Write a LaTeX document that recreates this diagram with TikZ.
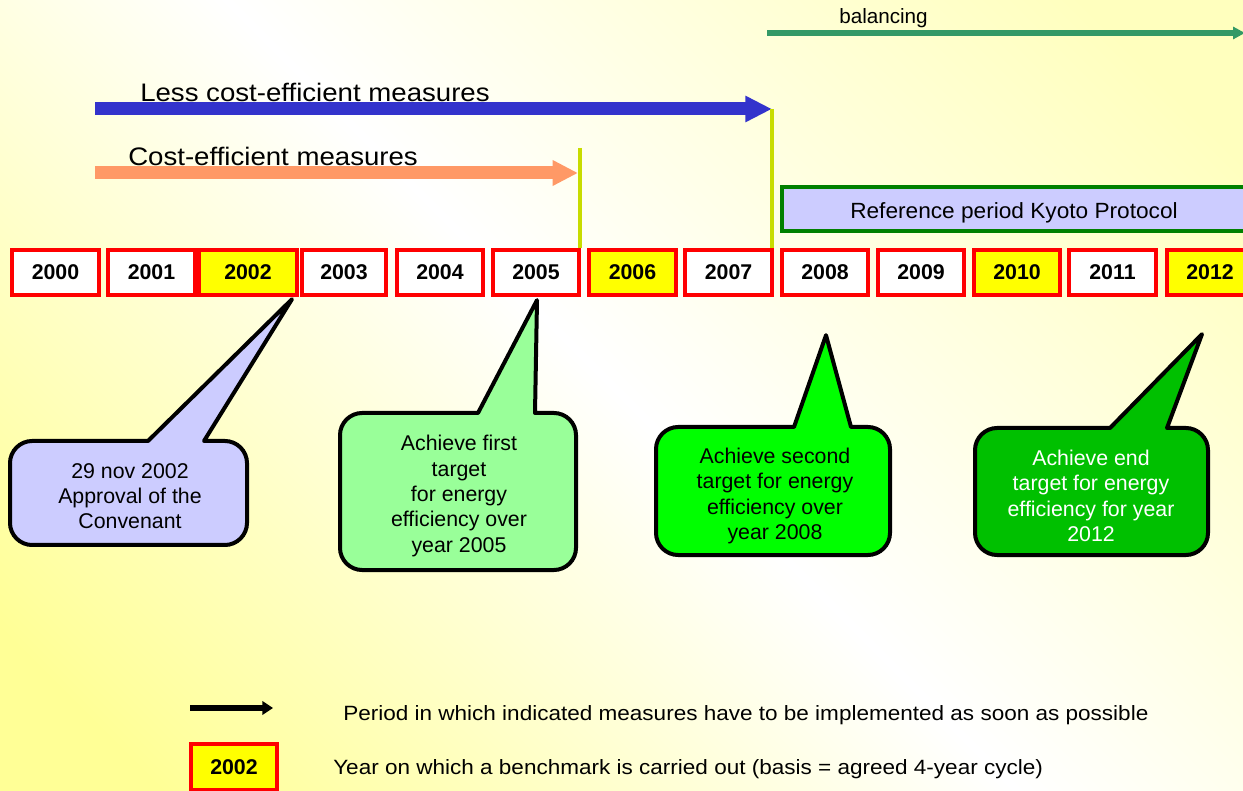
\documentclass[tikz,border=0pt]{standalone}
\usepackage{fontspec}
\setmainfont{Liberation Sans}
\newfontfamily\widefont[FakeStretch=1.09]{Liberation Sans}
\usetikzlibrary{arrows.meta,calc}
\definecolor{bgyellow}{RGB}{255,255,150}
\definecolor{bgyellowb}{RGB}{255,255,190}
\definecolor{boxred}{RGB}{255,0,0}
\definecolor{benchyellow}{RGB}{255,255,0}
\definecolor{lavender}{RGB}{204,204,255}
\definecolor{palegreen}{RGB}{153,255,153}
\definecolor{brightgreen}{RGB}{0,255,0}
\definecolor{deepgreen}{RGB}{0,192,0}
\definecolor{refgreen}{RGB}{0,128,0}
\definecolor{bluebar}{RGB}{51,51,204}
\definecolor{salmonbar}{RGB}{255,153,102}
\definecolor{balgreen}{RGB}{51,153,102}
\definecolor{limeline}{RGB}{200,220,0}
% #1 style, #2 left x, #3 top y, #4 right x, #5 bottom y, #6 pointer base left x, #7 pointer base right x, #8 tip
\newcommand{\mybubble}[8]{%
  \filldraw[bubble,#1] #8 -- (#7,#3) -- ({#4-22},#3)
    .. controls ({#4-10},#3) and (#4,{#3+10}) .. (#4,{#3+22})
    -- (#4,{#5-22}) .. controls (#4,{#5-10}) and ({#4-10},#5) .. ({#4-22},#5)
    -- ({#2+22},#5) .. controls ({#2+10},#5) and (#2,{#5-10}) .. (#2,{#5-22})
    -- (#2,{#3+22}) .. controls (#2,{#3+10}) and ({#2+10},#3) .. ({#2+22},#3)
    -- (#6,#3) -- cycle;}
\begin{document}
\begin{tikzpicture}[x=0.75pt,y=-0.75pt,
  yearbox/.style={draw=boxred, line width=3pt, fill=white, minimum width=65pt,
    minimum height=34pt, inner sep=0pt, font=\fontsize{16}{18}\selectfont\bfseries},
  bench/.style={yearbox, fill=benchyellow},
  bubble/.style={line width=3pt, draw=black, line join=round},
  bubbletext/.style={align=center, font=\fontsize{16}{19}\selectfont, inner sep=0pt},
  lbl/.style={inner sep=0pt, font=\widefont\fontsize{19}{22}\selectfont},
  smalllbl/.style={inner sep=0pt, font=\fontsize{15.5}{18}\selectfont},
  leglbl/.style={inner sep=0pt, font=\widefont\fontsize{15.5}{18}\selectfont},
  vline/.style={draw=limeline, line width=3pt}
]
\useasboundingbox (0,0) rectangle (1243,791);
\clip (0,0) rectangle (1243,791);
\shade[top color=bgyellowb, bottom color=bgyellow, middle color=white, shading angle=-45]
  (-100,-100) rectangle (1343,891);

% year boxes
\node[yearbox] (y2000) at (55.5,272.5) {2000};
\node[yearbox] (y2001) at (151.5,272.5) {2001};
\node[bench, minimum width=73.5pt] (y2002) at (248,272.5) {2002};
\node[yearbox, minimum width=63pt] (y2003) at (344,272.5) {2003};
\node[yearbox] (y2004) at (440,272.5) {2004};
\node[yearbox] (y2005) at (536,272.5) {2005};
\node[bench] (y2006) at (632.5,272.5) {2006};
\node[yearbox] (y2007) at (728.5,272.5) {2007};
\node[yearbox] (y2008) at (825,272.5) {2008};
\node[yearbox] (y2009) at (921,272.5) {2009};
\node[bench] (y2010) at (1017,272.5) {2010};
\node[yearbox] (y2011) at (1112.5,272.5) {2011};
\node[bench] (y2012) at (1210,272.5) {2012};

% arrows
\coordinate (balS) at (767,33);
\coordinate (balE) at (1245,33);
\draw[balgreen, line width=4.2pt, -{Triangle[length=9pt,width=9pt]}] (balS) -- (balE);
\node[smalllbl, anchor=west] (ballbl) at (839,18) {balancing};

\coordinate (blueS) at (95,109);
\coordinate (blueE) at (772,109);
\draw[bluebar, line width=9.75pt, -{Triangle[length=20pt,width=18.5pt]}] (blueS) -- (blueE);
\node[lbl, anchor=west] (lesslbl) at (140,92) {Less cost-efficient measures};

\coordinate (salS) at (95,173);
\coordinate (salE) at (578,173);
\draw[salmonbar, line width=9.75pt, -{Triangle[length=19pt,width=18pt]}] (salS) -- (salE);
\node[lbl, anchor=west] (costlbl) at (128,156) {Cost-efficient measures};

% vertical markers
\coordinate (v1top) at (580,148);
\draw[vline] (v1top) -- (v1top |- y2005.north);
\draw[vline] (blueE) -- (blueE |- y2007.north);

% reference period box
\draw[draw=refgreen, fill=lavender, line width=3pt] (782,187) rectangle (1270,231);
\node[inner sep=0pt, font=\fontsize{16.5}{19}\selectfont] (reflbl) at (1014,213) {\addfontfeature{FakeStretch=1.03}Reference period Kyoto Protocol};

% callouts
\mybubble{fill=lavender}{10}{441}{247}{545}{148}{204}{($(y2002.south east)+(-7,2)$)}
\node[bubbletext] (c1) at (130,496) {29 nov 2002\\Approval of the\\Convenant};

\mybubble{fill=palegreen}{340}{413}{576}{570}{478}{535}{($(y2005.south)+(1,3)$)}
\node[bubbletext] (c2) at (459,496) {Achieve first\\target\\for energy\\efficiency over\\year 2005};

\mybubble{fill=brightgreen}{656}{427}{890}{555}{794}{851}{($(y2008.south)+(1,38)$)}
\node[bubbletext] (c3) at (775,496) {Achieve second\\target for energy\\efficiency over\\year 2008};

\mybubble{fill=deepgreen}{975}{428}{1208}{555}{1110}{1167}{($(y2012.south)+(-8,37)$)}
\node[bubbletext, text=white] (c4) at (1091,496) {Achieve end\\target for energy\\efficiency for year\\2012};

% legend
\coordinate (legS) at (190,708);
\coordinate (legE) at (273,708);
\draw[black, line width=4pt, -{Triangle[length=8pt,width=10pt]}] (legS) -- (legE);
\node[leglbl, anchor=west] (leg1) at (343,715) {Period in which indicated measures have to be implemented as soon as possible};
\node[bench] (legbox) at (234,767) {2002};
\node[leglbl, anchor=west] (leg2) at (333,769) {Year on which a benchmark is carried out (basis = agreed 4-year cycle)};
\end{tikzpicture}
\end{document}
